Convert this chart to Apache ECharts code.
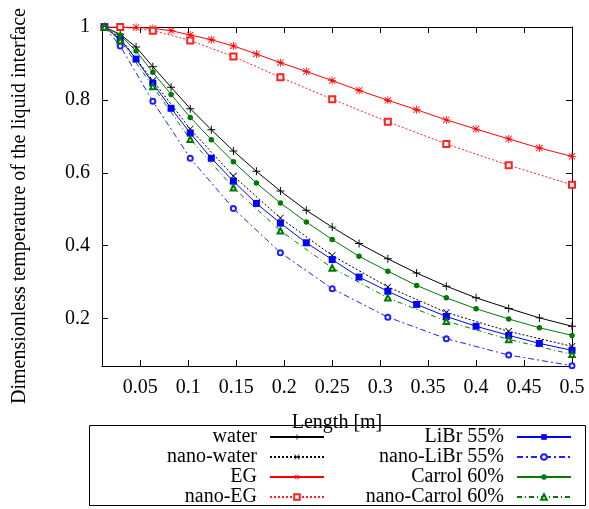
<!DOCTYPE html>
<html><head><meta charset="utf-8">
<script src="https://cdn.jsdelivr.net/npm/echarts@6/dist/echarts.min.js"></script>
<style>html,body{margin:0;padding:0;background:#fff}#c{width:589px;height:509px}</style>
</head><body><div id="c"></div>
<script>
// ---- data ----
const xGrid = [0.0125, 0.029, 0.0455, 0.063, 0.082, 0.102, 0.124, 0.147, 0.171, 0.196, 0.223, 0.25, 0.278, 0.308, 0.338, 0.369, 0.4, 0.434, 0.466, 0.5];
const xNano = [0.0125, 0.029, 0.063, 0.102, 0.147, 0.196, 0.25, 0.308, 0.369, 0.434, 0.5];

const water      = [1.0, 0.98, 0.945, 0.891, 0.835, 0.776, 0.718, 0.660, 0.604, 0.550, 0.497, 0.451, 0.406, 0.364, 0.325, 0.289, 0.257, 0.228, 0.202, 0.179];
const eg         = [1.0, 1.0, 0.999, 0.996, 0.99, 0.978, 0.965, 0.948, 0.926, 0.902, 0.878, 0.853, 0.826, 0.799, 0.773, 0.745, 0.72, 0.693, 0.668, 0.645];
const libr       = [1.0, 0.966, 0.912, 0.846, 0.777, 0.709, 0.640, 0.577, 0.516, 0.462, 0.408, 0.362, 0.314, 0.275, 0.239, 0.206, 0.179, 0.154, 0.132, 0.113];
const carrol     = [1.0, 0.978, 0.934, 0.876, 0.815, 0.752, 0.691, 0.630, 0.572, 0.517, 0.465, 0.417, 0.371, 0.330, 0.291, 0.257, 0.227, 0.199, 0.175, 0.154];
const nanoWater  = [1.0, 0.97, 0.853, 0.72, 0.591, 0.476, 0.373, 0.287, 0.217, 0.165, 0.124];
const nanoEG     = [1.0, 1.0, 0.99, 0.963, 0.919, 0.862, 0.802, 0.74, 0.679, 0.621, 0.567];
const nanoLibr   = [1.0, 0.948, 0.796, 0.640, 0.502, 0.381, 0.282, 0.204, 0.145, 0.100, 0.071];
const nanoCarrol = [1.0, 0.963, 0.837, 0.692, 0.559, 0.441, 0.339, 0.257, 0.193, 0.143, 0.102];

const seriesNames = ['water', 'nano-water', 'EG', 'nano-EG', 'LiBr 55%', 'nano-LiBr 55%', 'Carrol 60%', 'nano-Carrol 60%'];
const xTicks = [0.05, 0.1, 0.15, 0.2, 0.25, 0.3, 0.35, 0.4, 0.45, 0.5];
const yTicks = [0.2, 0.4, 0.6, 0.8, 1];
const xTitle = 'Length [m]';
const yTitle = 'Dimensionless temperature of the liquid interface';

// ---- styles ----
const FONT = 'Liberation Serif';
const PLUS = 'path://M4.4,0H5.6V4.4H10V5.6H5.6V10H4.4V5.6H0V4.4H4.4Z';
const CROSS = 'path://M0.8,0L5,4.2L9.2,0L10,0.8L5.8,5L10,9.2L9.2,10L5,5.8L0.8,10L0,9.2L4.2,5L0,0.8Z';
const STAR = 'path://M4.5,0H5.5V4.5H10V5.5H5.5V10H4.5V5.5H0V4.5H4.5Z M1.4,0.7L5,4.3L8.6,0.7L9.3,1.4L5.7,5L9.3,8.6L8.6,9.3L5,5.7L1.4,9.3L0.7,8.6L4.3,5L0.7,1.4Z';

function pairs(xs, ys) { return xs.map((x, i) => [x, ys[i]]); }

function mk(name, xs, ys, color, dash, symbol, size) {
  return {
    name: name, type: 'line', data: pairs(xs, ys),
    symbol: symbol, symbolSize: size, showAllSymbol: true,
    lineStyle: { color: color, width: 1, type: dash },
    itemStyle: { color: color, borderColor: color, borderWidth: symbol.indexOf('empty') === 0 ? 1 : 0 },
    emphasis: { disabled: true },
    z: 2
  };
}

const series = [
  mk(seriesNames[0], xGrid, water, '#000000', 'solid', PLUS, 8),
  mk(seriesNames[1], xNano, nanoWater, '#000000', [2, 2], CROSS, 7),
  mk(seriesNames[2], xGrid, eg, '#ff0000', 'solid', STAR, 8),
  mk(seriesNames[3], xNano, nanoEG, '#ff2020', [2, 2], 'emptyRect', 6),
  mk(seriesNames[4], xGrid, libr, '#0000ff', 'solid', 'rect', 7),
  mk(seriesNames[5], xNano, nanoLibr, '#2020ff', [6, 3, 2, 3], 'emptyCircle', 5),
  mk(seriesNames[6], xGrid, carrol, '#007a00', 'solid', 'circle', 5.5),
  mk(seriesNames[7], xNano, nanoCarrol, '#007a00', [5, 3, 1, 3], 'emptyTriangle', 5.5)
];

const axisLine = { show: true, onZero: false, lineStyle: { color: '#000', width: 1 } };
const tick = (vals) => ({ show: true, inside: true, length: 6, customValues: vals, lineStyle: { color: '#000', width: 1 } });
const labelStyle = { fontFamily: FONT, fontSize: 20, color: '#000' };

const legendBase = {
  orient: 'vertical', align: 'right', padding: 0, itemGap: 0,
  itemWidth: 54, itemHeight: 7, top: 427,
  textStyle: { fontFamily: FONT, fontSize: 20, color: '#000', padding: [0, 8, 0, 0], lineHeight: 20 },
  selectedMode: false
};

const option = {
  animation: false,
  backgroundColor: '#fff',
  grid: { left: 102, top: 27, width: 470, height: 339, containLabel: false },
  xAxis: [
    { type: 'value', min: 0.01, max: 0.5, position: 'bottom',
      name: xTitle, nameLocation: 'middle', nameGap: 47,
      nameTextStyle: { fontFamily: FONT, fontSize: 20, color: '#000' },
      axisLine: axisLine, axisTick: tick(xTicks), splitLine: { show: false },
      axisLabel: Object.assign({ customValues: xTicks, margin: 12 }, labelStyle) },
    { type: 'value', min: 0.01, max: 0.5, position: 'top',
      axisLine: axisLine, axisTick: tick(xTicks), splitLine: { show: false },
      axisLabel: { show: false } }
  ],
  yAxis: [
    { type: 'value', min: 0.07, max: 1, position: 'left',
      axisLine: axisLine, axisTick: tick(yTicks), splitLine: { show: false },
      axisLabel: Object.assign({ customValues: yTicks, margin: 12 }, labelStyle) },
    { type: 'value', min: 0.07, max: 1, position: 'right',
      axisLine: axisLine, axisTick: tick(yTicks), splitLine: { show: false },
      axisLabel: { show: false } }
  ],
  legend: [
    Object.assign({}, legendBase, { data: seriesNames.slice(0, 4), right: 264 }),
    Object.assign({}, legendBase, { data: seriesNames.slice(4, 8), right: 17 })
  ],
  graphic: [
    { type: 'rect', shape: { x: 89.5, y: 425.5, width: 496, height: 80 },
      style: { fill: 'none', stroke: '#000', lineWidth: 1 }, z: 0 },
    { type: 'text', x: 20, y: 206, rotation: Math.PI / 2,
      style: { text: yTitle, font: '20px "Liberation Serif"', fill: '#000', align: 'center', verticalAlign: 'middle' } }
  ],
  series: series
};

const chart = echarts.init(document.getElementById('c'), null, { renderer: 'canvas' });
chart.setOption(option);
</script>
</body></html>
